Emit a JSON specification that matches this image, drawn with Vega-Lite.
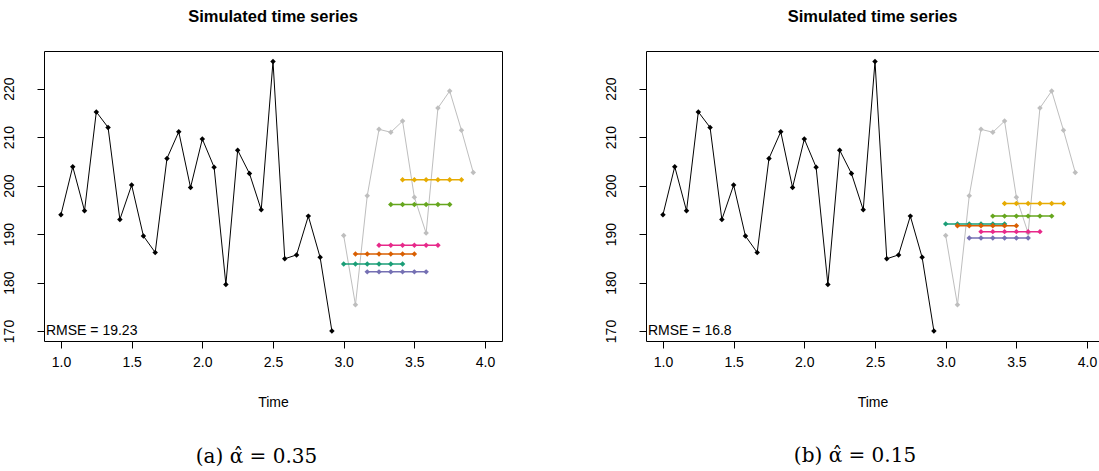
{
  "$schema": "https://vega.github.io/schema/vega-lite/v6.json",
  "autosize": {"type": "pad"},
  "padding": {"left": 0, "top": 8, "right": 0, "bottom": 0},
  "background": "white",
  "spacing": 100,
  "datasets": {
    "obs": [
      {"t": 1.0, "v": 194.0}, {"t": 1.0833, "v": 203.9}, {"t": 1.1667, "v": 194.8}, {"t": 1.25, "v": 215.2},
      {"t": 1.3333, "v": 212.0}, {"t": 1.4167, "v": 193.0}, {"t": 1.5, "v": 200.1}, {"t": 1.5833, "v": 189.6},
      {"t": 1.6667, "v": 186.2}, {"t": 1.75, "v": 205.6}, {"t": 1.8333, "v": 211.1}, {"t": 1.9167, "v": 199.6},
      {"t": 2.0, "v": 209.6}, {"t": 2.0833, "v": 203.8}, {"t": 2.1667, "v": 179.6}, {"t": 2.25, "v": 207.3},
      {"t": 2.3333, "v": 202.5}, {"t": 2.4167, "v": 195.0}, {"t": 2.5, "v": 225.6}, {"t": 2.5833, "v": 184.9},
      {"t": 2.6667, "v": 185.7}, {"t": 2.75, "v": 193.7}, {"t": 2.8333, "v": 185.2}, {"t": 2.9167, "v": 170.0}
    ],
    "future": [
      {"t": 3.0, "v": 189.7}, {"t": 3.0833, "v": 175.4}, {"t": 3.1667, "v": 197.9}, {"t": 3.25, "v": 211.6},
      {"t": 3.3333, "v": 211.0}, {"t": 3.4167, "v": 213.3}, {"t": 3.5, "v": 197.6}, {"t": 3.5833, "v": 190.2},
      {"t": 3.6667, "v": 216.0}, {"t": 3.75, "v": 219.5}, {"t": 3.8333, "v": 211.4}, {"t": 3.9167, "v": 202.7}
    ],
    "fa": [
      {"o": "o1", "t": 3.0, "v": 183.8}, {"o": "o1", "t": 3.0833, "v": 183.8}, {"o": "o1", "t": 3.1667, "v": 183.8}, {"o": "o1", "t": 3.25, "v": 183.8}, {"o": "o1", "t": 3.3333, "v": 183.8}, {"o": "o1", "t": 3.4167, "v": 183.8},
      {"o": "o2", "t": 3.0833, "v": 185.9}, {"o": "o2", "t": 3.1667, "v": 185.9}, {"o": "o2", "t": 3.25, "v": 185.9}, {"o": "o2", "t": 3.3333, "v": 185.9}, {"o": "o2", "t": 3.4167, "v": 185.9}, {"o": "o2", "t": 3.5, "v": 185.9},
      {"o": "o3", "t": 3.1667, "v": 182.2}, {"o": "o3", "t": 3.25, "v": 182.2}, {"o": "o3", "t": 3.3333, "v": 182.2}, {"o": "o3", "t": 3.4167, "v": 182.2}, {"o": "o3", "t": 3.5, "v": 182.2}, {"o": "o3", "t": 3.5833, "v": 182.2},
      {"o": "o4", "t": 3.25, "v": 187.7}, {"o": "o4", "t": 3.3333, "v": 187.7}, {"o": "o4", "t": 3.4167, "v": 187.7}, {"o": "o4", "t": 3.5, "v": 187.7}, {"o": "o4", "t": 3.5833, "v": 187.7}, {"o": "o4", "t": 3.6667, "v": 187.7},
      {"o": "o5", "t": 3.3333, "v": 196.1}, {"o": "o5", "t": 3.4167, "v": 196.1}, {"o": "o5", "t": 3.5, "v": 196.1}, {"o": "o5", "t": 3.5833, "v": 196.1}, {"o": "o5", "t": 3.6667, "v": 196.1}, {"o": "o5", "t": 3.75, "v": 196.1},
      {"o": "o6", "t": 3.4167, "v": 201.2}, {"o": "o6", "t": 3.5, "v": 201.2}, {"o": "o6", "t": 3.5833, "v": 201.2}, {"o": "o6", "t": 3.6667, "v": 201.2}, {"o": "o6", "t": 3.75, "v": 201.2}, {"o": "o6", "t": 3.8333, "v": 201.2}
    ],
    "fb": [
      {"o": "o1", "t": 3.0, "v": 192.1}, {"o": "o1", "t": 3.0833, "v": 192.1}, {"o": "o1", "t": 3.1667, "v": 192.1}, {"o": "o1", "t": 3.25, "v": 192.1}, {"o": "o1", "t": 3.3333, "v": 192.1}, {"o": "o1", "t": 3.4167, "v": 192.1},
      {"o": "o2", "t": 3.0833, "v": 191.7}, {"o": "o2", "t": 3.1667, "v": 191.7}, {"o": "o2", "t": 3.25, "v": 191.7}, {"o": "o2", "t": 3.3333, "v": 191.7}, {"o": "o2", "t": 3.4167, "v": 191.7}, {"o": "o2", "t": 3.5, "v": 191.7},
      {"o": "o3", "t": 3.1667, "v": 189.2}, {"o": "o3", "t": 3.25, "v": 189.2}, {"o": "o3", "t": 3.3333, "v": 189.2}, {"o": "o3", "t": 3.4167, "v": 189.2}, {"o": "o3", "t": 3.5, "v": 189.2}, {"o": "o3", "t": 3.5833, "v": 189.2},
      {"o": "o4", "t": 3.25, "v": 190.5}, {"o": "o4", "t": 3.3333, "v": 190.5}, {"o": "o4", "t": 3.4167, "v": 190.5}, {"o": "o4", "t": 3.5, "v": 190.5}, {"o": "o4", "t": 3.5833, "v": 190.5}, {"o": "o4", "t": 3.6667, "v": 190.5},
      {"o": "o5", "t": 3.3333, "v": 193.7}, {"o": "o5", "t": 3.4167, "v": 193.7}, {"o": "o5", "t": 3.5, "v": 193.7}, {"o": "o5", "t": 3.5833, "v": 193.7}, {"o": "o5", "t": 3.6667, "v": 193.7}, {"o": "o5", "t": 3.75, "v": 193.7},
      {"o": "o6", "t": 3.4167, "v": 196.3}, {"o": "o6", "t": 3.5, "v": 196.3}, {"o": "o6", "t": 3.5833, "v": 196.3}, {"o": "o6", "t": 3.6667, "v": 196.3}, {"o": "o6", "t": 3.75, "v": 196.3}, {"o": "o6", "t": 3.8333, "v": 196.3}
    ],
    "ra": [{"label": "RMSE = 19.23", "t": 0.88, "v": 170}],
    "rb": [{"label": "RMSE = 16.8", "t": 0.88, "v": 170}]
  },
  "hconcat": [
    {
      "title": {"text": "(a) α̂ = 0.35", "orient": "bottom", "font": "DejaVu Serif", "fontSize": 20, "fontWeight": "normal", "color": "black", "anchor": "middle", "frame": "bounds", "offset": 37, "dx": 5},
      "vconcat": [
        {
          "title": {"text": "Simulated time series", "fontSize": 16.5, "fontWeight": "bold", "font": "Liberation Sans", "color": "black", "anchor": "middle", "frame": "group", "offset": 26},
          "width": 458,
          "height": 290,
          "view": {"stroke": "black", "strokeWidth": 1},
          "layer": [
            {
              "data": {"name": "obs"},
              "mark": {"type": "line", "color": "black", "strokeWidth": 1, "point": {"shape": "diamond", "filled": true, "size": 30, "color": "black"}},
              "encoding": {
                "x": {"field": "t", "type": "quantitative", "scale": {"domain": [0.88, 4.12], "nice": false, "zero": false},
                      "axis": {"values": [1, 1.5, 2, 2.5, 3, 3.5, 4], "format": ".1f", "title": "Time"}},
                "y": {"field": "v", "type": "quantitative", "scale": {"domain": [167.94, 227.76], "nice": false, "zero": false},
                      "axis": {"values": [170, 180, 190, 200, 210, 220], "title": null}}
              }
            },
            {
              "data": {"name": "future"},
              "mark": {"type": "line", "color": "#BEBEBE", "strokeWidth": 1, "point": {"shape": "diamond", "filled": true, "size": 30, "color": "#BEBEBE"}},
              "encoding": {"x": {"field": "t", "type": "quantitative"}, "y": {"field": "v", "type": "quantitative"}}
            },
            {
              "data": {"name": "fa"},
              "mark": {"type": "line", "strokeWidth": 1.5, "point": {"shape": "diamond", "filled": true, "size": 30}},
              "encoding": {
                "x": {"field": "t", "type": "quantitative"}, "y": {"field": "v", "type": "quantitative"},
                "color": {"field": "o", "type": "nominal", "scale": {"domain": ["o1", "o2", "o3", "o4", "o5", "o6"], "range": ["#1B9E77", "#D95F02", "#7570B3", "#E7298A", "#66A61E", "#E6AB02"]}, "legend": null}
              }
            },
            {
              "data": {"name": "ra"},
              "mark": {"type": "text", "align": "left", "baseline": "middle", "dx": 2, "fontSize": 14, "font": "Liberation Sans", "color": "black"},
              "encoding": {"x": {"field": "t", "type": "quantitative"}, "y": {"field": "v", "type": "quantitative"}, "text": {"field": "label"}}
            }
          ]
        }
      ]
    },
    {
      "title": {"text": "(b) α̂ = 0.15", "orient": "bottom", "font": "DejaVu Serif", "fontSize": 20, "fontWeight": "normal", "color": "black", "anchor": "middle", "frame": "bounds", "offset": 37, "dx": 4},
      "vconcat": [
        {
          "title": {"text": "Simulated time series", "fontSize": 16.5, "fontWeight": "bold", "font": "Liberation Sans", "color": "black", "anchor": "middle", "frame": "group", "offset": 26},
          "width": 453,
          "height": 290,
          "view": {"stroke": null},
          "resolve": {"axis": {"x": "independent"}},
          "layer": [
            {
              "data": {"name": "obs"},
              "mark": {"type": "line", "color": "black", "strokeWidth": 1, "point": {"shape": "diamond", "filled": true, "size": 30, "color": "black"}},
              "encoding": {
                "x": {"field": "t", "type": "quantitative", "scale": {"domain": [0.88, 4.0846], "nice": false, "zero": false},
                      "axis": {"values": [1, 1.5, 2, 2.5, 3, 3.5, 4], "format": ".1f", "title": "Time", "domain": true}},
                "y": {"field": "v", "type": "quantitative", "scale": {"domain": [167.94, 227.76], "nice": false, "zero": false},
                      "axis": {"values": [170, 180, 190, 200, 210, 220], "title": null, "domain": true}}
              }
            },
            {
              "data": {"name": "future"},
              "mark": {"type": "line", "color": "#BEBEBE", "strokeWidth": 1, "point": {"shape": "diamond", "filled": true, "size": 30, "color": "#BEBEBE"}},
              "encoding": {
                "x": {"field": "t", "type": "quantitative", "axis": {"orient": "top", "domain": true, "ticks": false, "labels": false, "title": null}},
                "y": {"field": "v", "type": "quantitative"}
              }
            },
            {
              "data": {"name": "fb"},
              "mark": {"type": "line", "strokeWidth": 1.5, "point": {"shape": "diamond", "filled": true, "size": 30}},
              "encoding": {
                "x": {"field": "t", "type": "quantitative", "axis": null}, "y": {"field": "v", "type": "quantitative"},
                "color": {"field": "o", "type": "nominal", "scale": {"domain": ["o1", "o2", "o3", "o4", "o5", "o6"], "range": ["#1B9E77", "#D95F02", "#7570B3", "#E7298A", "#66A61E", "#E6AB02"]}, "legend": null}
              }
            },
            {
              "data": {"name": "rb"},
              "mark": {"type": "text", "align": "left", "baseline": "middle", "dx": 2, "fontSize": 14, "font": "Liberation Sans", "color": "black"},
              "encoding": {"x": {"field": "t", "type": "quantitative", "axis": null}, "y": {"field": "v", "type": "quantitative"}, "text": {"field": "label"}}
            }
          ]
        }
      ]
    }
  ],
  "config": {
    "font": "Liberation Sans",
    "axis": {
      "domain": false, "domainColor": "black", "domainWidth": 1, "grid": false,
      "tickColor": "black", "tickSize": 7, "tickWidth": 1,
      "labelColor": "black", "labelFont": "Liberation Sans", "labelFontSize": 14,
      "titleColor": "black", "titleFont": "Liberation Sans", "titleFontSize": 14, "titleFontWeight": "normal"
    },
    "axisX": {"labelPadding": 7, "titlePadding": 26, "labelFlush": false},
    "axisY": {"labelAngle": -90, "labelAlign": "center", "labelBaseline": "alphabetic", "labelPadding": 24, "minExtent": 43, "maxExtent": 43}
  }
}
